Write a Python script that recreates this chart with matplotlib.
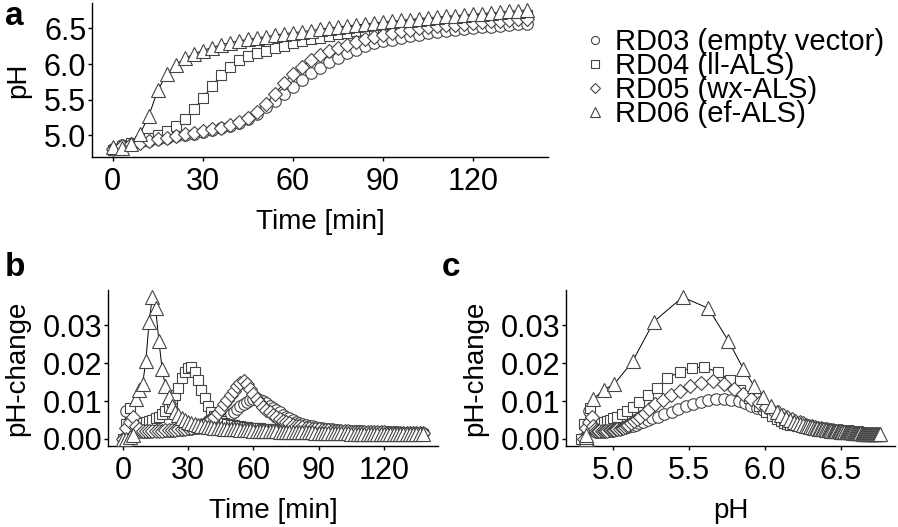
import numpy as np
import matplotlib
matplotlib.use('Agg')
import matplotlib.pyplot as plt
from matplotlib.lines import Line2D
from matplotlib.ticker import FormatStrFormatter

plt.rcParams['font.family'] = ['Liberation Sans', 'DejaVu Sans']

# measurement every 1.5 min, 0 - 138 min (panel a shows every second point)
time_min = np.arange(0, 138.1, 1.5)

strains = ['RD03 (empty vector)', 'RD04 (ll-ALS)', 'RD05 (wx-ALS)', 'RD06 (ef-ALS)']
markers = ['o', 's', 'D', '^']
msizes = [8.3, 7.6, 7.2, 10.4]

# pH
ph_rd03 = [4.80, 4.84, 4.86, 4.87, 4.88, 4.89, 4.90, 4.91, 4.92, 4.93,
           4.94, 4.95, 4.96, 4.97, 4.98, 4.99, 5.00, 5.01, 5.02, 5.03,
           5.04, 5.05, 5.07, 5.08, 5.10, 5.11, 5.13, 5.15, 5.17, 5.20,
           5.23, 5.26, 5.30, 5.34, 5.39, 5.43, 5.48, 5.53, 5.58, 5.63,
           5.68, 5.73, 5.78, 5.83, 5.87, 5.91, 5.95, 5.99, 6.03, 6.06,
           6.09, 6.12, 6.15, 6.18, 6.20, 6.23, 6.25, 6.27, 6.29, 6.30,
           6.32, 6.33, 6.34, 6.35, 6.37, 6.38, 6.39, 6.40, 6.41, 6.42,
           6.43, 6.44, 6.445, 6.45, 6.46, 6.47, 6.475, 6.48, 6.49, 6.495,
           6.50, 6.51, 6.515, 6.52, 6.525, 6.53, 6.54, 6.545, 6.55, 6.555,
           6.56, 6.565, 6.57]
ph_rd04 = [4.79, 4.81, 4.85, 4.87, 4.89, 4.90, 4.92, 4.94, 4.96, 4.98,
           5.00, 5.03, 5.06, 5.09, 5.13, 5.17, 5.23, 5.29, 5.36, 5.44,
           5.52, 5.60, 5.69, 5.77, 5.84, 5.90, 5.96, 6.01, 6.05, 6.08,
           6.11, 6.13, 6.15, 6.17, 6.19, 6.21, 6.23, 6.25, 6.26, 6.28,
           6.29, 6.31, 6.32, 6.33, 6.35, 6.36, 6.37, 6.38, 6.40, 6.41,
           6.42, 6.43, 6.44, 6.45, 6.46, 6.47, 6.475, 6.48, 6.49, 6.50,
           6.505, 6.51, 6.52, 6.53, 6.54, 6.545, 6.55, 6.56, 6.565, 6.57,
           6.575, 6.58, 6.585, 6.59, 6.595, 6.60, 6.605, 6.61, 6.62, 6.625,
           6.63, 6.635, 6.64, 6.645, 6.65, 6.655, 6.66, 6.665, 6.67, 6.675,
           6.68, 6.685, 6.69]
ph_rd05 = [4.81, 4.82, 4.84, 4.86, 4.87, 4.88, 4.89, 4.90, 4.91, 4.93,
           4.94, 4.95, 4.96, 4.98, 4.99, 5.00, 5.01, 5.02, 5.03, 5.05,
           5.06, 5.07, 5.08, 5.09, 5.10, 5.12, 5.14, 5.16, 5.18, 5.21,
           5.24, 5.28, 5.33, 5.38, 5.44, 5.51, 5.58, 5.66, 5.73, 5.80,
           5.86, 5.91, 5.96, 6.01, 6.05, 6.09, 6.12, 6.15, 6.18, 6.20,
           6.23, 6.25, 6.27, 6.29, 6.31, 6.33, 6.35, 6.37, 6.38, 6.40,
           6.41, 6.42, 6.44, 6.45, 6.46, 6.47, 6.48, 6.49, 6.50, 6.51,
           6.52, 6.525, 6.53, 6.54, 6.545, 6.55, 6.555, 6.56, 6.57, 6.575,
           6.58, 6.585, 6.59, 6.595, 6.60, 6.605, 6.61, 6.615, 6.62, 6.625,
           6.63, 6.635, 6.64]
ph_rd06 = [4.83, 4.82, 4.82, 4.82, 4.87, 4.94, 5.01, 5.13, 5.27, 5.46,
           5.63, 5.76, 5.86, 5.93, 5.99, 6.04, 6.08, 6.11, 6.14, 6.17,
           6.19, 6.21, 6.23, 6.25, 6.27, 6.285, 6.30, 6.31, 6.325, 6.335,
           6.345, 6.355, 6.365, 6.375, 6.385, 6.395, 6.405, 6.415, 6.425, 6.43,
           6.44, 6.45, 6.455, 6.465, 6.47, 6.48, 6.49, 6.495, 6.505, 6.51,
           6.52, 6.525, 6.535, 6.54, 6.55, 6.555, 6.56, 6.57, 6.575, 6.58,
           6.59, 6.595, 6.60, 6.61, 6.615, 6.62, 6.625, 6.63, 6.64, 6.645,
           6.65, 6.655, 6.66, 6.665, 6.67, 6.675, 6.68, 6.685, 6.69, 6.695,
           6.70, 6.705, 6.71, 6.715, 6.72, 6.725, 6.73, 6.735, 6.74, 6.745,
           6.75, 6.755, 6.76]

# pH-change
dph_rd03 = [0.0, 0.0074, 0.004, 0.0025, 0.002, 0.0019, 0.0019, 0.0019, 0.0019, 0.002,
            0.002, 0.002, 0.0021, 0.0021, 0.0022, 0.0022, 0.0023, 0.0023, 0.0024, 0.0025,
            0.0026, 0.0027, 0.0028, 0.003, 0.0031, 0.0033, 0.0035, 0.0038, 0.0041, 0.0045,
            0.0049, 0.0054, 0.0059, 0.0065, 0.0072, 0.0079, 0.0086, 0.0092, 0.0098, 0.0103,
            0.0106, 0.0106, 0.0103, 0.0099, 0.0094, 0.0088, 0.0082, 0.0076, 0.007, 0.0064,
            0.0059, 0.0054, 0.005, 0.0046, 0.0043, 0.004, 0.0037, 0.0035, 0.0033, 0.0031,
            0.0029, 0.0028, 0.0027, 0.0026, 0.0025, 0.0024, 0.0023, 0.0022, 0.0022, 0.0021,
            0.0021, 0.002, 0.002, 0.002, 0.0019, 0.0019, 0.0019, 0.0018, 0.0018, 0.0018,
            0.0018, 0.0017, 0.0017, 0.0017, 0.0017, 0.0016, 0.0016, 0.0016, 0.0016, 0.0016,
            0.0015, 0.0015, 0.0015]
dph_rd04 = [0.0, 0.004, 0.0083, 0.0045, 0.0042, 0.0042, 0.0043, 0.0045, 0.0047, 0.005,
            0.0054, 0.0059, 0.0066, 0.0074, 0.0084, 0.0098, 0.0115, 0.0135, 0.016, 0.0178,
            0.0188, 0.019, 0.0177, 0.0155, 0.013, 0.0108, 0.0088, 0.0072, 0.006, 0.0052,
            0.0047, 0.0043, 0.004, 0.0038, 0.0036, 0.0034, 0.0033, 0.0032, 0.0031, 0.003,
            0.0029, 0.0028, 0.0028, 0.0027, 0.0026, 0.0026, 0.0025, 0.0025, 0.0024, 0.0024,
            0.0023, 0.0023, 0.0022, 0.0022, 0.0021, 0.0021, 0.0021, 0.002, 0.002, 0.002,
            0.0019, 0.0019, 0.0019, 0.0018, 0.0018, 0.0018, 0.0018, 0.0017, 0.0017, 0.0017,
            0.0017, 0.0016, 0.0016, 0.0016, 0.0016, 0.0016, 0.0016, 0.0016, 0.0016, 0.0016,
            0.0016, 0.0015, 0.0015, 0.0015, 0.0015, 0.0015, 0.0015, 0.0015, 0.0015, 0.0015,
            0.0015, 0.0014, 0.0014]
dph_rd05 = [0.0, 0.003, 0.0045, 0.0057, 0.0035, 0.0025, 0.0022, 0.0021, 0.0021, 0.0021,
            0.0021, 0.0022, 0.0022, 0.0023, 0.0023, 0.0024, 0.0024, 0.0025, 0.0026, 0.0027,
            0.0028, 0.003, 0.0032, 0.0035, 0.0038, 0.0042, 0.0047, 0.0052, 0.0058, 0.0068,
            0.008, 0.0092, 0.0103, 0.0115, 0.0127, 0.0139, 0.0148, 0.0152, 0.0145, 0.0133,
            0.0118, 0.0105, 0.0094, 0.0085, 0.0077, 0.007, 0.0063, 0.0057, 0.0052, 0.0048,
            0.0044, 0.0041, 0.0038, 0.0035, 0.0033, 0.0031, 0.0029, 0.0028, 0.0027, 0.0026,
            0.0025, 0.0024, 0.0023, 0.0023, 0.0022, 0.0021, 0.0021, 0.002, 0.002, 0.002,
            0.0019, 0.0019, 0.0019, 0.0018, 0.0018, 0.0018, 0.0018, 0.0017, 0.0017, 0.0017,
            0.0017, 0.0016, 0.0016, 0.0016, 0.0016, 0.0016, 0.0015, 0.0015, 0.0015, 0.0015,
            0.0015, 0.0015, 0.0015]
dph_rd06 = [0.0, 0.0, 0.0004, 0.001, 0.0105, 0.013, 0.0145, 0.0205, 0.031, 0.0375,
            0.0345, 0.026, 0.0185, 0.014, 0.011, 0.0087, 0.0072, 0.0062, 0.0055, 0.005,
            0.0045, 0.0042, 0.0039, 0.0037, 0.0035, 0.0033, 0.0032, 0.0031, 0.003, 0.0029,
            0.0028, 0.0027, 0.0027, 0.0026, 0.0025, 0.0025, 0.0024, 0.0024, 0.0023, 0.0023,
            0.0022, 0.0022, 0.0021, 0.0021, 0.0021, 0.002, 0.002, 0.002, 0.0019, 0.0019,
            0.0019, 0.0018, 0.0018, 0.0018, 0.0018, 0.0017, 0.0017, 0.0017, 0.0017, 0.0016,
            0.0016, 0.0016, 0.0016, 0.0016, 0.0015, 0.0015, 0.0015, 0.0015, 0.0015, 0.0015,
            0.0014, 0.0014, 0.0014, 0.0014, 0.0014, 0.0014, 0.0014, 0.0013, 0.0013, 0.0013,
            0.0013, 0.0013, 0.0013, 0.0013, 0.0013, 0.0013, 0.0012, 0.0012, 0.0012, 0.0012,
            0.0012, 0.0012, 0.0012]

ph_all = [ph_rd03, ph_rd04, ph_rd05, ph_rd06]
dph_all = [dph_rd03, dph_rd04, dph_rd05, dph_rd06]

W, H = 898, 527
fig = plt.figure(figsize=(W / 100, H / 100), dpi=100)


def px_axes(left, top, right, bottom):
    return fig.add_axes([left / W, 1 - bottom / H, (right - left) / W, (bottom - top) / H])


def style(ax):
    for s in ['top', 'right']:
        ax.spines[s].set_visible(False)
    for s in ['left', 'bottom']:
        ax.spines[s].set_linewidth(1.0)
    ax.tick_params(axis='both', labelsize=22, length=3, width=1.0, colors='black')
    ax.tick_params(axis='x', pad=4)
    ax.tick_params(axis='y', pad=1)


def draw(ax, xs, ys):
    for x, y in zip(xs, ys):
        ax.plot(x, y, color='black', lw=0.7, zorder=2)
    for x, y, m, s in zip(xs, ys, markers, msizes):
        ax.plot(x, y, ls='none', marker=m, ms=s, mfc='white', mec='#444444', mew=0.8, zorder=3)
    ax.margins(0.05)


# a: pH over time
ax_a = px_axes(92, 3, 548, 157)
draw(ax_a, [time_min[::2]] * 4, [np.array(p)[::2] for p in ph_all])
ax_a.set_xticks([0, 30, 60, 90, 120])
ax_a.set_yticks([5.0, 5.5, 6.0, 6.5])
ax_a.yaxis.set_major_formatter(FormatStrFormatter('%.1f'))
ax_a.set_xlabel('Time [min]', fontsize=20, labelpad=9)
ax_a.set_ylabel('pH', fontsize=20, labelpad=9)
style(ax_a)

# b: pH-change over time
ax_b = px_axes(108, 290, 438, 446)
draw(ax_b, [time_min] * 4, dph_all)
ax_b.set_xticks([0, 30, 60, 90, 120])
ax_b.set_yticks([0.0, 0.01, 0.02, 0.03])
ax_b.yaxis.set_major_formatter(FormatStrFormatter('%.2f'))
ax_b.set_xlabel('Time [min]', fontsize=20, labelpad=9)
ax_b.set_ylabel('pH-change', fontsize=20, labelpad=9)
style(ax_b)

# c: pH-change over pH
ax_c = px_axes(566, 290, 895, 446)
draw(ax_c, ph_all, dph_all)
ax_c.set_xticks([5.0, 5.5, 6.0, 6.5])
ax_c.xaxis.set_major_formatter(FormatStrFormatter('%.1f'))
ax_c.set_yticks([0.0, 0.01, 0.02, 0.03])
ax_c.yaxis.set_major_formatter(FormatStrFormatter('%.2f'))
ax_c.set_xlabel('pH', fontsize=20, labelpad=9)
ax_c.set_ylabel('pH-change', fontsize=20, labelpad=9)
style(ax_c)

# legend
handles = [Line2D([], [], ls='none', marker=m, ms=s * 0.7, mfc='white', mec='#444444', mew=0.8)
           for m, s in zip(markers, msizes)]
fig.legend(handles, strains, loc='upper left', bbox_to_anchor=(586 / W, 1 - 28 / H),
           frameon=False, fontsize=21, handlelength=0.6, handletextpad=0.4,
           labelspacing=-0.14, borderpad=0, borderaxespad=0)

# panel letters
for letter, x, y in [('a', 5, 25), ('b', 5, 276), ('c', 442, 276)]:
    fig.text(x / W, 1 - y / H, letter, fontsize=24, fontweight='bold', va='baseline', ha='left')

fig.savefig('out.png', dpi=100)
